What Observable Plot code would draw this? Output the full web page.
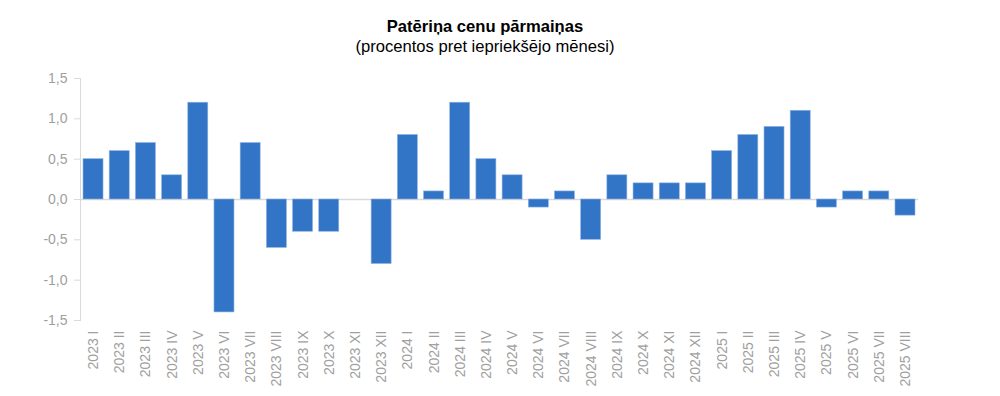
<!DOCTYPE html>
<html>
<head>
<meta charset="utf-8">
<script src="https://cdn.jsdelivr.net/npm/d3@7"></script>
<script src="https://cdn.jsdelivr.net/npm/@observablehq/plot@0.6"></script>
<style>
  body { margin: 0; background: #fff; font-family: "Liberation Sans", Arial, sans-serif; }
  #title { height: 62px; box-sizing: border-box; padding-top: 17px; padding-right: 30px; text-align: center; color: #000; }
  #title .t { font-weight: bold; font-size: 16.6px; line-height: 20px; }
  #title .s { font-size: 16.6px; line-height: 20px; }
</style>
</head>
<body>
<div id="title"><div class="t">Patēriņa cenu pārmaiņas</div><div class="s">(procentos pret iepriekšējo mēnesi)</div></div>
<div id="chart"></div>
<script>
const months = ["2023 I","2023 II","2023 III","2023 IV","2023 V","2023 VI","2023 VII","2023 VIII","2023 IX","2023 X","2023 XI","2023 XII",
  "2024 I","2024 II","2024 III","2024 IV","2024 V","2024 VI","2024 VII","2024 VIII","2024 IX","2024 X","2024 XI","2024 XII",
  "2025 I","2025 II","2025 III","2025 IV","2025 V","2025 VI","2025 VII","2025 VIII"];
const values = [0.5,0.6,0.7,0.3,1.2,-1.4,0.7,-0.6,-0.4,-0.4,0.0,-0.8,
  0.8,0.1,1.2,0.5,0.3,-0.1,0.1,-0.5,0.3,0.2,0.2,0.2,
  0.6,0.8,0.9,1.1,-0.1,0.1,0.1,-0.2];
const yTicks = [-1.5,-1.0,-0.5,0.0,0.5,1.0,1.5];

const data = months.map((m, i) => ({month: m, value: values[i]}));
const fmt = d => d.toFixed(1).replace(".", ",");

const chart = Plot.plot({
  width: 1000,
  height: 334,
  marginTop: 16,
  marginBottom: 76,
  marginLeft: 80,
  marginRight: 82,
  style: {fontFamily: "'Liberation Sans', Arial, sans-serif", fontSize: "14px", color: "#a0a0a0"},
  x: {domain: months, padding: 0.236, paddingOuter: 0.115, round: false},
  y: {domain: [-1.5, 1.5]},
  marks: [
    Plot.ruleY([0], {stroke: "#d9d9d9", strokeWidth: 1.5}),
    Plot.barY(data, {x: "month", y: "value", fill: "#3275c6", stroke: "#8fb3e2", strokeWidth: 0.6}),
    Plot.frame({anchor: "left", stroke: "#d9d9d9"}),
    Plot.axisY({ticks: yTicks, tickFormat: fmt, tickSize: 6, tickPadding: 7, stroke: "#d9d9d9", fill: "#a0a0a0", label: null, fontSize: 14}),
    Plot.axisX({tickRotate: -90, tickSize: 0, tickPadding: 10, fill: "#a0a0a0", label: null, fontSize: 14})
  ]
});
document.getElementById("chart").appendChild(chart);
</script>
</body>
</html>
